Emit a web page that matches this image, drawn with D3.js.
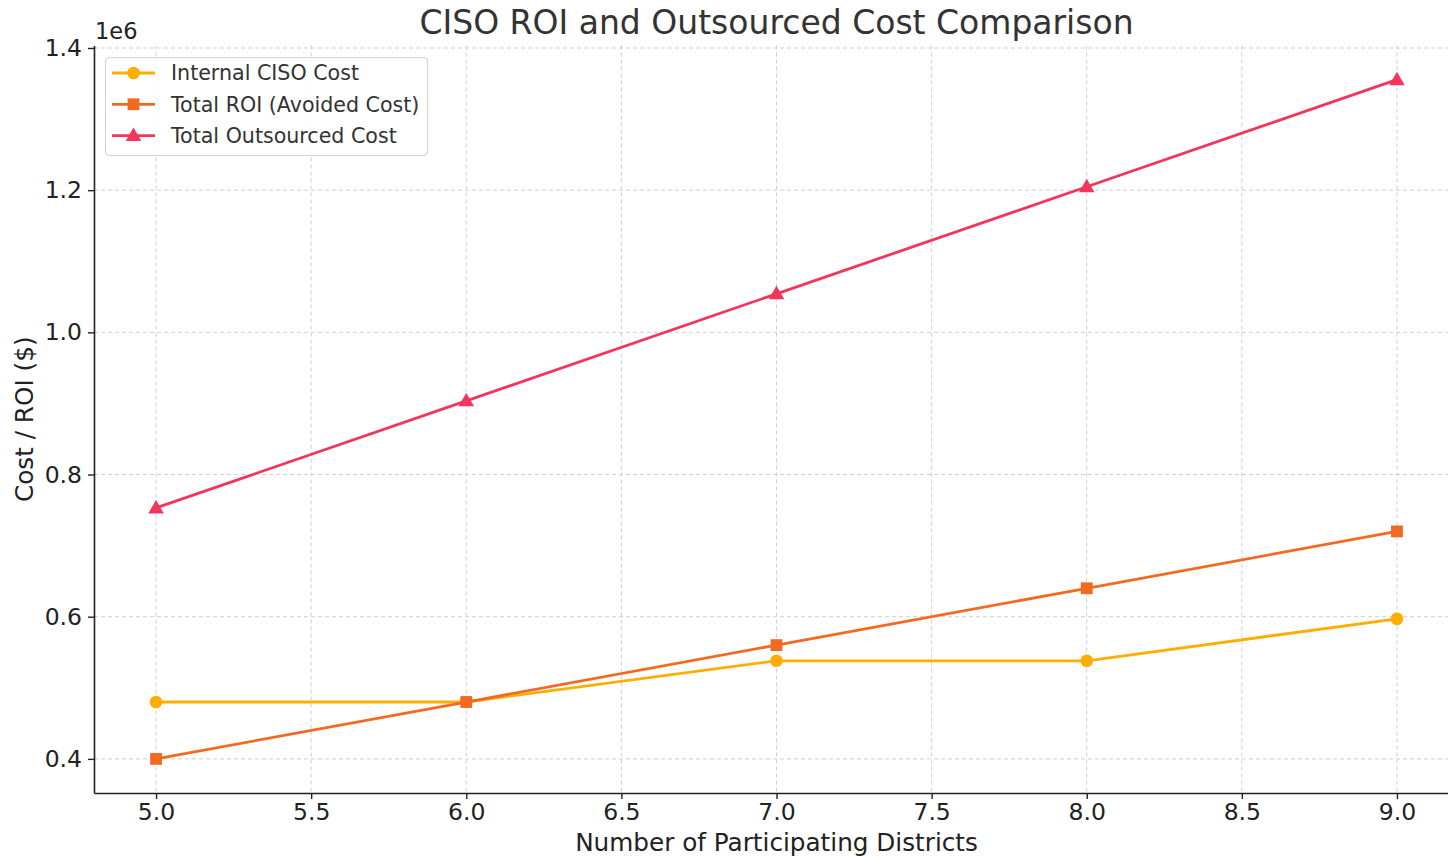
<!DOCTYPE html>
<html>
<head>
<meta charset="utf-8">
<script src="https://cdn.jsdelivr.net/npm/d3@7"></script>
<style>
  html, body { margin: 0; padding: 0; background: #fff; }
  svg { display: block; font-family: "DejaVu Sans", sans-serif; }
</style>
</head>
<body>
<svg id="chart" width="1448" height="859"></svg>
<script>
// Number of participating districts
const districts = [5, 6, 7, 8, 9];

// Series values in dollars
const internalCisoCost = [480000, 480000, 538000, 538000, 597000];
const totalRoi = [400000, 480000, 560000, 640000, 720000];
const totalOutsourcedCost = [753000, 903600, 1054200, 1204800, 1355400];

// Tick labels
const xTicks = [5.0, 5.5, 6.0, 6.5, 7.0, 7.5, 8.0, 8.5, 9.0];
const yTicks = [400000, 600000, 800000, 1000000, 1200000, 1400000];

const seriesNames = ["Internal CISO Cost", "Total ROI (Avoided Cost)", "Total Outsourced Cost"];
const seriesColors = ["#FFAD00", "#F26A21", "#F2355B"];
const seriesMarkers = ["circle", "square", "triangle"];

const series = [internalCisoCost, totalRoi, totalOutsourcedCost].map((vals, i) => ({
  name: seriesNames[i],
  color: seriesColors[i],
  marker: seriesMarkers[i],
  points: districts.map((d, j) => ({ x: d, y: vals[j] }))
}));

const svg = d3.select("#chart");
const plot = { left: 94, right: 1459, top: 45.5, bottom: 793 };

const x = d3.scaleLinear().domain([4.8, 9.2]).range([plot.left, plot.right]);
const y = d3.scaleLinear().domain([352000, 1403500]).range([plot.bottom, plot.top]);

// Grid
const grid = svg.append("g").attr("stroke", "#cfcfcf").attr("stroke-width", 1)
  .attr("stroke-dasharray", "4,3").attr("fill", "none");
xTicks.forEach(t => grid.append("line")
  .attr("x1", x(t)).attr("x2", x(t)).attr("y1", plot.top).attr("y2", plot.bottom));
yTicks.forEach(t => grid.append("line")
  .attr("x1", plot.left).attr("x2", plot.right).attr("y1", y(t)).attr("y2", y(t)));

// Axes
const xAxis = d3.axisBottom(x).tickValues(xTicks).tickFormat(d3.format(".1f"))
  .tickSizeInner(6).tickSizeOuter(0).tickPadding(4);
const yAxis = d3.axisLeft(y).tickValues(yTicks).tickFormat(d => (d / 1e6).toFixed(1))
  .tickSizeInner(6).tickSizeOuter(0).tickPadding(6);

const gx = svg.append("g").attr("transform", `translate(0,${plot.bottom})`).call(xAxis);
const gy = svg.append("g").attr("transform", `translate(${plot.left},0)`).call(yAxis);
[gx, gy].forEach(g => {
  g.select(".domain").attr("stroke", "#222").attr("stroke-width", 1.6);
  g.selectAll(".tick line").attr("stroke", "#222").attr("stroke-width", 1.4);
  g.selectAll(".tick text").attr("fill", "#222").style("font-size", "23.5px")
    .style("font-family", "DejaVu Sans, sans-serif");
});

// Offset multiplier label
svg.append("text").attr("x", 95).attr("y", 39).attr("fill", "#222")
  .style("font-size", "22.5px").text("1e6");

// Axis titles
svg.append("text").attr("x", (plot.left + plot.right) / 2).attr("y", 851)
  .attr("text-anchor", "middle").attr("fill", "#222").style("font-size", "24.7px")
  .text("Number of Participating Districts");
svg.append("text")
  .attr("transform", `translate(33,${(plot.top + plot.bottom) / 2}) rotate(-90)`)
  .attr("text-anchor", "middle").attr("fill", "#222").style("font-size", "24.7px")
  .text("Cost / ROI ($)");

// Title
svg.append("text").attr("x", (plot.left + plot.right) / 2).attr("y", 33.5)
  .attr("text-anchor", "middle").attr("fill", "#333").style("font-size", "33px")
  .text("CISO ROI and Outsourced Cost Comparison");

// Markers
const symbolFor = m => m === "circle" ? d3.symbolCircle : m === "square" ? d3.symbolSquare : d3.symbolTriangle;
const sizeFor = m => m === "circle" ? 125 : m === "square" ? 140 : 105;

const line = d3.line().x(d => x(d.x)).y(d => y(d.y));

series.forEach(s => {
  const g = svg.append("g");
  g.append("path").datum(s.points).attr("d", line)
    .attr("fill", "none").attr("stroke", s.color).attr("stroke-width", 2.8)
    .attr("stroke-linejoin", "round");
  g.selectAll("path.mk").data(s.points).join("path").attr("class", "mk")
    .attr("transform", d => `translate(${x(d.x)},${y(d.y) + (s.marker === "triangle" ? 1 : 0)})`)
    .attr("d", d3.symbol().type(symbolFor(s.marker)).size(sizeFor(s.marker)))
    .attr("fill", s.color);
});

// Legend
const legend = svg.append("g");
legend.append("rect").attr("x", 105.5).attr("y", 57.5).attr("width", 322).attr("height", 98)
  .attr("rx", 4).attr("fill", "#fff").attr("fill-opacity", 0.85)
  .attr("stroke", "#d4d4d4").attr("stroke-width", 1.2);
series.forEach((s, i) => {
  const cy = 73 + i * 31.3;
  legend.append("line").attr("x1", 112).attr("x2", 155).attr("y1", cy).attr("y2", cy)
    .attr("stroke", s.color).attr("stroke-width", 2.8);
  legend.append("path")
    .attr("transform", `translate(133.5,${cy + (s.marker === "triangle" ? 1 : 0)})`)
    .attr("d", d3.symbol().type(symbolFor(s.marker)).size(sizeFor(s.marker)))
    .attr("fill", s.color);
  legend.append("text").attr("x", 171).attr("y", cy).attr("dy", "0.36em")
    .attr("fill", "#333").style("font-size", "20.6px").text(s.name);
});
</script>
</body>
</html>
